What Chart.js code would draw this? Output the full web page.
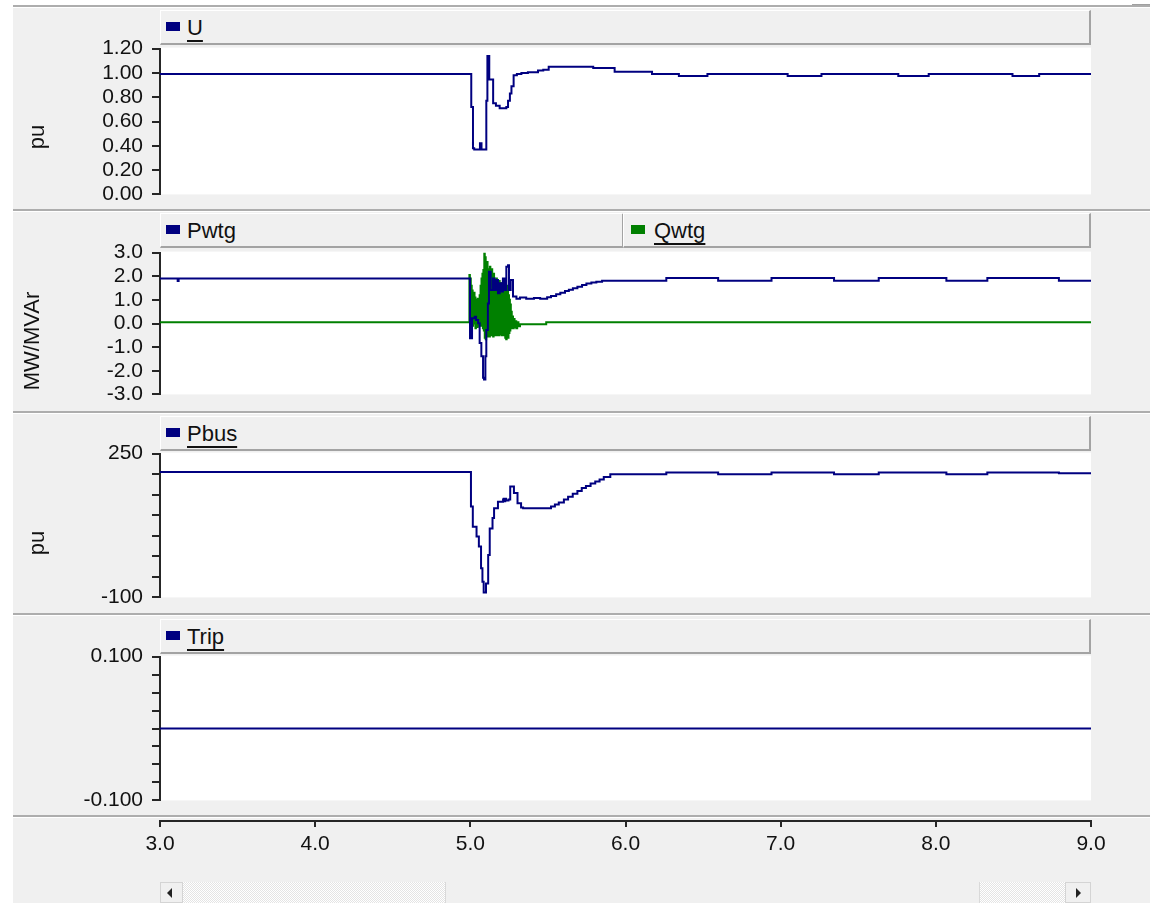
<!DOCTYPE html>
<html>
<head>
<meta charset="utf-8">
<title>Wind turbine fault response</title>
<script src="https://cdn.jsdelivr.net/npm/chart.js@4.4.0/dist/chart.umd.min.js"></script>
<style>
  html, body { margin: 0; padding: 0; background: #fff; }
  body { width: 1150px; height: 905px; position: relative; overflow: hidden;
         font-family: "Liberation Sans", Arial, sans-serif; color: #111; }
  #frame { position: absolute; left: 13px; top: 5px; width: 1137px; height: 898px; background: #f0f0f0; }
  .sep { position: absolute; left: 13px; width: 1137px; height: 2px; background: #adadad; border-bottom: 1px solid #fff; }
  canvas { position: absolute; left: 0; }
  .legend { position: absolute; box-sizing: border-box; height: 35px; background: #f0f0f0;
            border-top: 1px solid #fff; border-left: 1px solid #fff;
            border-right: 2px solid #a3a3a3; border-bottom: 2px solid #a3a3a3; }
  .swatch { position: absolute; top: 11px; width: 14px; height: 9px; }
  .name { position: absolute; top: 6px; font-size: 22px; line-height: 22px; white-space: nowrap; }
  .name.ul { text-decoration: underline; text-decoration-thickness: 2px; text-underline-offset: 5px; }
  .ytitle { position: absolute; font-size: 22px; line-height: 22px; white-space: nowrap;
            transform: translate(-50%, -50%) rotate(-90deg); }
  .sb { position: absolute; top: 882px; height: 21px; box-sizing: border-box; }
  .sb-btn { background: #f0f0f0; border: 1px solid #d4d4d4; }
  .sb-track { background-color: #fff;
              background-image: repeating-conic-gradient(#e4e4e4 0 25%, #fff 0 50%);
              background-size: 2px 2px; }
  .sb-thumb { background: #f0f0f0; border-left: 1px solid #d9d9d9; border-right: 1px solid #d9d9d9; }
  .tri { position: absolute; top: 5px; width: 0; height: 0;
         border-top: 5px solid transparent; border-bottom: 5px solid transparent; }
</style>
</head>
<body>
<div id="frame"></div>
<div style="position:absolute;left:1132px;top:4px;width:18px;height:3px;background:#a0a0a0"></div>
<div class="sep" style="top:5px"></div>
<div class="sep" style="top:209px"></div>
<div class="sep" style="top:411px"></div>
<div class="sep" style="top:613px"></div>
<div class="sep" style="top:815px"></div>

<canvas id="chartU"></canvas>
<canvas id="chartPQ"></canvas>
<canvas id="chartPbus"></canvas>
<canvas id="chartTrip"></canvas>
<canvas id="timeAxis"></canvas>

<div class="legend" style="left:160px;top:10px;width:931px">
  <div class="swatch" style="left:5px;background:#000080"></div>
  <div class="name ul" style="left:26px">U</div>
</div>
<div class="legend" style="left:160px;top:213px;width:464px">
  <div class="swatch" style="left:5px;background:#000080"></div>
  <div class="name" style="left:26px">Pwtg</div>
</div>
<div class="legend" style="left:623px;top:213px;width:468px">
  <div class="swatch" style="left:7px;background:#008000"></div>
  <div class="name ul" style="left:30px">Qwtg</div>
</div>
<div class="legend" style="left:160px;top:416px;width:931px">
  <div class="swatch" style="left:5px;background:#000080"></div>
  <div class="name ul" style="left:26px">Pbus</div>
</div>
<div class="legend" style="left:160px;top:619px;width:931px">
  <div class="swatch" style="left:5px;background:#000080"></div>
  <div class="name ul" style="left:26px">Trip</div>
</div>

<div class="ytitle" style="left:37px;top:137px">pu</div>
<div class="ytitle" style="left:32px;top:341px">MW/MVAr</div>
<div class="ytitle" style="left:37px;top:543px">pu</div>

<!-- horizontal scroll bar under the time axis -->
<div class="sb sb-btn" style="left:160px;width:23px"><div class="tri" style="left:6px;border-right:5px solid #222"></div></div>
<div class="sb sb-track" style="left:183px;width:262px"></div>
<div class="sb sb-thumb" style="left:445px;width:535px"></div>
<div class="sb sb-track" style="left:980px;width:85px"></div>
<div class="sb sb-btn" style="left:1065px;width:26px"><div class="tri" style="left:10px;border-left:5px solid #222"></div></div>

<script>
// time in s, value in the unit of each panel; each pair is where the held value changes
const uTrace = [
  [3.0, 0.99], [5.006, 0.72], [5.017, 0.38], [5.025, 0.37], [5.062, 0.42], [5.072, 0.37],
  [5.103, 0.77], [5.11, 1.14], [5.122, 0.945], [5.147, 0.75], [5.165, 0.73], [5.189, 0.71],
  [5.232, 0.72], [5.243, 0.77], [5.255, 0.83], [5.265, 0.89], [5.279, 0.98], [5.3, 0.99],
  [5.329, 1.0], [5.371, 1.005], [5.436, 1.02], [5.47, 1.025], [5.505, 1.05], [5.792, 1.04],
  [5.93, 1.01], [6.171, 0.99], [6.344, 0.975], [6.528, 0.99], [7.045, 0.975], [7.263, 0.99],
  [7.758, 0.975], [7.954, 0.99], [8.494, 0.975], [8.666, 0.99], [9.0, 0.99]
];

const pwtgTrace = [
  [3.0, 1.9], [3.114, 1.8], [3.12, 1.9],
  [4.998, -0.62], [5.011, 0.22], [5.028, 0.29], [5.037, 0.15], [5.05, 0.01], [5.06, -0.83],
  [5.071, -1.39], [5.082, -2.3], [5.088, -2.37], [5.097, -1.39], [5.103, -0.27], [5.113, 0.85],
  [5.12, 2.19], [5.131, 1.42], [5.146, 1.9], [5.157, 1.42], [5.167, 1.84], [5.178, 1.28],
  [5.189, 1.7], [5.2, 1.35], [5.21, 1.9], [5.221, 1.42], [5.232, 2.4], [5.243, 2.47],
  [5.249, 1.42], [5.26, 1.84], [5.275, 1.14], [5.297, 1.05], [5.32, 1.1], [5.36, 1.05],
  [5.41, 1.08], [5.45, 1.05], [5.495, 1.11], [5.52, 1.16], [5.553, 1.24], [5.58, 1.3],
  [5.61, 1.37], [5.635, 1.43], [5.661, 1.49], [5.69, 1.56], [5.72, 1.63], [5.748, 1.69],
  [5.78, 1.74], [5.812, 1.77], [5.849, 1.81], [6.263, 1.93], [6.597, 1.81], [6.941, 1.93],
  [7.344, 1.81], [7.632, 1.93], [8.068, 1.81], [8.332, 1.93], [8.793, 1.81], [9.0, 1.81]
];

const qwtgTrace = [
  [3.0, 0.05],
  [4.994, 2.05], [4.997, 0.1], [5.0, 1.9], [5.003, 0.3], [5.006, 1.6], [5.009, 0.05],
  [5.012, 1.4], [5.015, -0.1], [5.018, 1.2], [5.021, 0.0], [5.024, 1.3], [5.027, 0.1],
  [5.03, 1.1], [5.033, -0.2], [5.036, 1.0], [5.039, 0.05], [5.042, 0.9], [5.045, -0.15],
  [5.048, 1.05], [5.051, 0.0], [5.054, 0.8], [5.057, -0.1], [5.06, 1.2], [5.063, 0.0],
  [5.066, 1.6], [5.069, -0.1], [5.072, 1.9], [5.075, 0.1], [5.078, 2.1], [5.081, -0.2],
  [5.084, 2.26], [5.087, -0.3], [5.09, 2.96], [5.093, -0.6], [5.096, 2.8], [5.099, -0.67],
  [5.102, 2.5], [5.105, -0.5], [5.108, 2.6], [5.111, -0.55], [5.114, 2.3], [5.117, -0.4],
  [5.12, 2.2], [5.123, -0.55], [5.126, 2.4], [5.129, -0.3], [5.132, 2.0], [5.135, -0.5],
  [5.138, 2.3], [5.141, -0.45], [5.144, 1.9], [5.147, -0.55], [5.15, 2.1], [5.153, -0.4],
  [5.156, 1.8], [5.159, -0.5], [5.162, 1.6], [5.165, -0.35], [5.168, 1.9], [5.171, -0.5],
  [5.174, 1.7], [5.177, -0.4], [5.18, 1.5], [5.183, -0.5], [5.186, 1.8], [5.189, -0.45],
  [5.192, 1.6], [5.195, -0.3], [5.198, 1.7], [5.201, -0.5], [5.204, 1.5], [5.207, -0.4],
  [5.21, 1.8], [5.213, -0.5], [5.216, 1.6], [5.219, -0.45], [5.222, 1.7], [5.225, -0.6],
  [5.228, 1.5], [5.231, -0.67], [5.234, 1.6], [5.237, -0.5], [5.24, 1.4], [5.243, -0.6],
  [5.246, 1.2], [5.249, -0.4], [5.252, 1.0], [5.255, -0.3], [5.258, 0.8], [5.261, -0.2],
  [5.264, 0.5], [5.267, -0.15], [5.27, 0.3], [5.275, -0.2], [5.28, 0.19], [5.285, -0.15],
  [5.29, 0.1], [5.296, -0.2], [5.302, 0.05], [5.31, -0.12], [5.32, -0.03], [5.489, 0.05],
  [9.0, 0.05]
];

const pbusTrace = [
  [3.0, 205], [5.004, 121], [5.016, 72], [5.04, 48], [5.055, 24], [5.069, -29], [5.078, -62],
  [5.086, -88], [5.101, -66], [5.115, 3], [5.125, 68], [5.143, 93], [5.153, 117], [5.178, 133],
  [5.211, 138], [5.215, 140], [5.22, 134], [5.225, 140], [5.23, 136], [5.246, 138],
  [5.257, 170], [5.281, 154], [5.304, 129], [5.327, 119], [5.34, 117], [5.52, 121],
  [5.545, 126], [5.57, 131], [5.603, 138], [5.63, 145], [5.66, 152], [5.69, 159], [5.718, 166],
  [5.745, 171], [5.775, 177], [5.805, 182], [5.833, 187], [5.86, 193], [5.902, 200],
  [6.263, 204], [6.597, 200], [6.941, 204], [7.344, 200], [7.632, 204], [8.068, 200],
  [8.332, 204], [8.793, 202], [9.0, 202]
];

const tripTrace = [[3.0, 0], [9.0, 0]];

const uTicks = [0, 0.2, 0.4, 0.6, 0.8, 1.0, 1.2];
const pqTicks = [-3, -2, -1, 0, 1, 2, 3];
const pbusTicks = [-100, -50, 0, 50, 100, 150, 200, 250];
const pbusLabels = [-100, 250];
const tripTicks = [-0.1, -0.075, -0.05, -0.025, 0, 0.025, 0.05, 0.075, 0.1];
const tripLabels = [-0.1, 0.1];
const timeTicks = [3, 4, 5, 6, 7, 8, 9];

const NAVY = '#000080';
const GREEN = '#008000';
const AXIS = '#262626';
const PAGE_W = 1150;
const PLOT_LEFT = 160;
const PLOT_RIGHT = 1091;
// chart area inset inside each panel canvas (layout padding plus what the scale adds)
const INSET_TOP = 20;
const INSET_BOTTOM = 23;

Chart.defaults.font.family = '"Liberation Sans", Arial, sans-serif';
Chart.defaults.font.size = 21;
Chart.defaults.color = '#111';
Chart.defaults.animation = false;
Chart.defaults.events = [];
Chart.defaults.plugins.legend.display = false;
Chart.defaults.plugins.tooltip.enabled = false;

// white plot area behind the traces
const plotBg = {
  id: 'plotBg',
  beforeDraw(chart) {
    const a = chart.chartArea;
    const ctx = chart.ctx;
    ctx.save();
    ctx.fillStyle = '#fff';
    ctx.fillRect(a.left, a.top - 1, a.right - a.left, a.bottom - a.top + 1);
    ctx.restore();
  }
};

const toPoints = trace => trace.map(([t, v]) => ({ x: t, y: v }));
const near = (v, list) => list.some(l => Math.abs(v - l) < 1e-9);

function trace(label, pts, color) {
  return {
    label,
    data: toPoints(pts),
    borderColor: color,
    backgroundColor: color,
    borderWidth: 2,
    stepped: true,
    pointRadius: 0,
    fill: false
  };
}

function makePanel(id, top, bottom, tickValues, labelFn, datasets) {
  const canvas = document.getElementById(id);
  canvas.width = PAGE_W;
  canvas.height = bottom - top + INSET_TOP + INSET_BOTTOM;
  canvas.style.top = (top - INSET_TOP) + 'px';
  return new Chart(canvas, {
    type: 'line',
    data: { datasets },
    options: {
      responsive: false,
      devicePixelRatio: 1,
      layout: { padding: { top: 16, bottom: 16, left: 0, right: PAGE_W - PLOT_RIGHT } },
      scales: {
        x: { type: 'linear', display: false, min: timeTicks[0], max: timeTicks[timeTicks.length - 1] },
        y: {
          min: tickValues[0],
          max: tickValues[tickValues.length - 1],
          afterFit(s) { s.width = PLOT_LEFT; },
          afterBuildTicks(s) { s.ticks = tickValues.map(v => ({ value: v })); },
          ticks: { autoSkip: false, padding: 9, color: '#111', callback: labelFn },
          grid: { drawOnChartArea: false, tickLength: 8, color: AXIS, lineWidth: 2 },
          border: { color: AXIS, width: 2 }
        }
      }
    },
    plugins: [plotBg]
  });
}

makePanel('chartU', 47, 193, uTicks, v => v.toFixed(2), [
  trace('U', uTrace, NAVY)
]);

makePanel('chartPQ', 251, 393, pqTicks, v => v.toFixed(1), [
  trace('Pwtg', pwtgTrace, NAVY),
  trace('Qwtg', qwtgTrace, GREEN)
]);

makePanel('chartPbus', 452, 596, pbusTicks, v => near(v, pbusLabels) ? String(v) : '', [
  trace('Pbus', pbusTrace, NAVY)
]);

makePanel('chartTrip', 655, 799, tripTicks, v => near(v, tripLabels) ? v.toFixed(3) : '', [
  trace('Trip', tripTrace, NAVY)
]);

// shared time axis below the panels
const axisCanvas = document.getElementById('timeAxis');
axisCanvas.width = PAGE_W;
axisCanvas.height = 62;
axisCanvas.style.top = '800px';
new Chart(axisCanvas, {
  type: 'scatter',
  data: { datasets: [] },
  options: {
    responsive: false,
    devicePixelRatio: 1,
    layout: { padding: { top: 6, bottom: 0, left: PLOT_LEFT, right: PAGE_W - PLOT_RIGHT } },
    scales: {
      x: {
        type: 'linear',
        min: timeTicks[0],
        max: timeTicks[timeTicks.length - 1],
        afterFit(s) { s.height = 41; },
        afterBuildTicks(s) { s.ticks = timeTicks.map(v => ({ value: v })); },
        ticks: { autoSkip: false, maxRotation: 0, padding: 5, color: '#111', callback: v => v.toFixed(1) },
        grid: { drawOnChartArea: false, tickLength: 6, color: AXIS, lineWidth: 2 },
        border: { color: AXIS, width: 2 }
      },
      y: { display: false, min: 0, max: 1 }
    }
  }
});
</script>
</body>
</html>
